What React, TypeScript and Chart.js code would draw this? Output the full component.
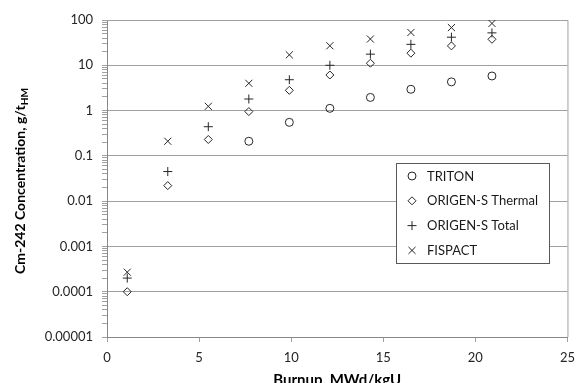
import React, { useEffect, useRef } from "react";
import { Chart, registerables } from "chart.js";

Chart.register(...registerables);

const burnup = [1.1, 3.3, 5.5, 7.7, 9.9, 12.1, 14.3, 16.5, 18.7, 20.9];
const tritonValues = [null, null, null, 0.21, 0.55, 1.12, 1.95, 2.95, 4.3, 5.8];
const origenThermal = [0.0001, 0.022, 0.23, 0.95, 2.8, 6.1, 11.1, 18.5, 26.8, 37.5];
const origenTotal = [0.0002, 0.045, 0.44, 1.8, 4.8, 10, 17.6, 29, 41.7, 52];
const fispact = [0.00027, 0.21, 1.24, 4.0, 17, 27, 38, 53, 68, 84];
const seriesLabels = ["TRITON", "ORIGEN-S Thermal", "ORIGEN-S Total", "FISPACT"];
const yTickLabels = ["0.00001", "0.0001", "0.001", "0.01", "0.1", "1", "10", "100"];
const xTickLabels = ["0", "5", "10", "15", "20", "25"];

const FONT = "Lato, 'Open Sans', sans-serif";
const INK = "#262626";
const GRID = "#a0a0a0";

const CA = { left: 107, right: 577, top: 20, bottom: 337 };
const W = 583;
const H = 383;

function pts(vals: (number | null)[]) {
  return burnup.map((x, i) => ({ x, y: vals[i] as any })).filter((p) => p.y !== null);
}

function drawMarker(ctx: CanvasRenderingContext2D, style: string, x: number, y: number) {
  ctx.beginPath();
  if (style === "circle") {
    ctx.arc(x, y, 4, 0, Math.PI * 2);
  } else if (style === "rectRot") {
    ctx.moveTo(x - 4, y);
    ctx.lineTo(x, y - 4);
    ctx.lineTo(x + 4, y);
    ctx.lineTo(x, y + 4);
    ctx.closePath();
  } else if (style === "cross") {
    ctx.moveTo(x - 4.5, y);
    ctx.lineTo(x + 4.5, y);
    ctx.moveTo(x, y - 4.5);
    ctx.lineTo(x, y + 4.5);
  } else {
    const d = 5 * Math.SQRT1_2;
    ctx.moveTo(x - d, y - d);
    ctx.lineTo(x + d, y + d);
    ctx.moveTo(x - d, y + d);
    ctx.lineTo(x + d, y - d);
  }
  ctx.stroke();
}

const decorPlugin = {
  id: "decor",
  beforeDatasetsDraw(chart: any) {
    const { ctx, chartArea } = chart;
    ctx.save();
    ctx.strokeStyle = GRID;
    ctx.lineWidth = 1;
    ctx.beginPath();
    ctx.moveTo(chartArea.left, chartArea.top + 0.5);
    ctx.lineTo(chartArea.right + 0.5, chartArea.top + 0.5);
    ctx.lineTo(chartArea.right + 0.5, chartArea.bottom);
    ctx.stroke();
    ctx.restore();
  },
  afterDraw(chart: any) {
    const { ctx, chartArea } = chart;
    ctx.save();
    const main = "Cm-242 Concentration, g/t";
    const sub = "HM";
    ctx.fillStyle = "#000";
    ctx.font = `bold 14px ${FONT}`;
    const wMain = ctx.measureText(main).width;
    ctx.font = `bold 10px ${FONT}`;
    const wSub = ctx.measureText(sub).width;
    const total = wMain + wSub;
    ctx.translate(25, 181);
    ctx.rotate(-Math.PI / 2);
    ctx.textBaseline = "alphabetic";
    ctx.textAlign = "left";
    ctx.font = `bold 14px ${FONT}`;
    ctx.fillText(main, -total / 2, 0);
    ctx.font = `bold 10px ${FONT}`;
    ctx.fillText(sub, -total / 2 + wMain, 3);
    ctx.restore();

    ctx.save();
    ctx.fillStyle = "#000";
    ctx.font = `bold 15px ${FONT}`;
    ctx.textAlign = "center";
    ctx.textBaseline = "alphabetic";
    ctx.fillText("Burnup, MWd/kgU", (chartArea.left + chartArea.right) / 2, 385);
    ctx.restore();

    ctx.save();
    const bx = 396, by = 163.5, bw = 153, bh = 100;
    ctx.fillStyle = "#fff";
    ctx.fillRect(bx, by, bw, bh);
    ctx.strokeStyle = "#595959";
    ctx.lineWidth = 1;
    ctx.strokeRect(bx + 0.5, by, bw, bh);
    const styles = ["circle", "rectRot", "cross", "crossRot"];
    ctx.font = `13px ${FONT}`;
    ctx.textBaseline = "middle";
    ctx.textAlign = "left";
    seriesLabels.forEach((lab, i) => {
      const y = 176 + i * 24.8;
      ctx.strokeStyle = INK;
      ctx.lineWidth = 1;
      drawMarker(ctx, styles[i], 412, y);
      ctx.fillStyle = "#1a1a1a";
      ctx.fillText(lab, 427, y + 0.5);
    });
    ctx.restore();
  },
};

export default function App() {
  const ref = useRef<HTMLCanvasElement | null>(null);
  useEffect(() => {
    document.body.style.margin = "0";
    const canvas = ref.current!;
    const common = {
      showLine: false,
      backgroundColor: "rgba(0,0,0,0)",
      borderColor: INK,
      pointBorderColor: INK,
      pointBackgroundColor: "rgba(0,0,0,0)",
      pointBorderWidth: 1,
    };
    const chart = new Chart(canvas, {
      type: "scatter",
      data: {
        datasets: [
          { ...common, label: seriesLabels[0], data: pts(tritonValues), pointStyle: "circle", pointRadius: 4 },
          { ...common, label: seriesLabels[1], data: pts(origenThermal), pointStyle: "rectRot", pointRadius: 4 },
          { ...common, label: seriesLabels[2], data: pts(origenTotal), pointStyle: "cross", pointRadius: 4.5 },
          { ...common, label: seriesLabels[3], data: pts(fispact), pointStyle: "crossRot", pointRadius: 5 },
        ] as any,
      },
      options: {
        animation: false,
        responsive: false,
        layout: { padding: { left: 0, right: W - CA.right, top: CA.top, bottom: 0 } },
        plugins: { legend: { display: false }, tooltip: { enabled: false } },
        scales: {
          x: {
            type: "linear",
            min: 0,
            max: 25,
            afterBuildTicks: (s: any) => {
              s.ticks = xTickLabels.map((t) => ({ value: Number(t) }));
            },
            afterFit: (s: any) => {
              s.height = H - CA.bottom;
            },
            ticks: {
              color: INK,
              font: { family: FONT, size: 13 },
              padding: 8,
              maxRotation: 0,
              callback: (v: any) => xTickLabels[xTickLabels.indexOf(String(v))] ?? "",
            },
            grid: { display: true, drawOnChartArea: false, tickLength: 5, color: GRID },
            border: { display: true, color: "#888" },
          },
          y: {
            type: "logarithmic",
            min: 0.00001,
            max: 100,
            afterBuildTicks: (s: any) => {
              const ticks: any[] = [];
              yTickLabels.forEach((lab, i) => {
                const base = Number(lab);
                ticks.push({ value: base, major: true });
                if (i < yTickLabels.length - 1) {
                  [2, 3, 4, 5, 6, 7, 8, 9].forEach((k) => ticks.push({ value: k * base, major: false }));
                }
              });
              s.ticks = ticks;
            },
            afterFit: (s: any) => {
              s.width = CA.left;
            },
            ticks: {
              autoSkip: false,
              color: INK,
              font: { family: FONT, size: 13 },
              padding: 9,
              callback: (v: any) => {
                const l = Math.log10(Number(v));
                if (Math.abs(l - Math.round(l)) < 1e-9) return yTickLabels[Math.round(l) + 5];
                return "";
              },
            },
            grid: {
              tickLength: 5,
              color: (c: any) => {
                const v = c.tick?.value;
                if (v === undefined) return "rgba(0,0,0,0)";
                const l = Math.log10(v);
                return Math.abs(l - Math.round(l)) < 1e-9 ? GRID : "rgba(0,0,0,0)";
              },
              tickColor: GRID,
            },
            border: { display: true, color: "#888" },
          },
        },
      } as any,
      plugins: [decorPlugin],
    });
    return () => chart.destroy();
  }, []);
  return <canvas ref={ref} width={W} height={H} style={{ display: "block" }} />;
}
